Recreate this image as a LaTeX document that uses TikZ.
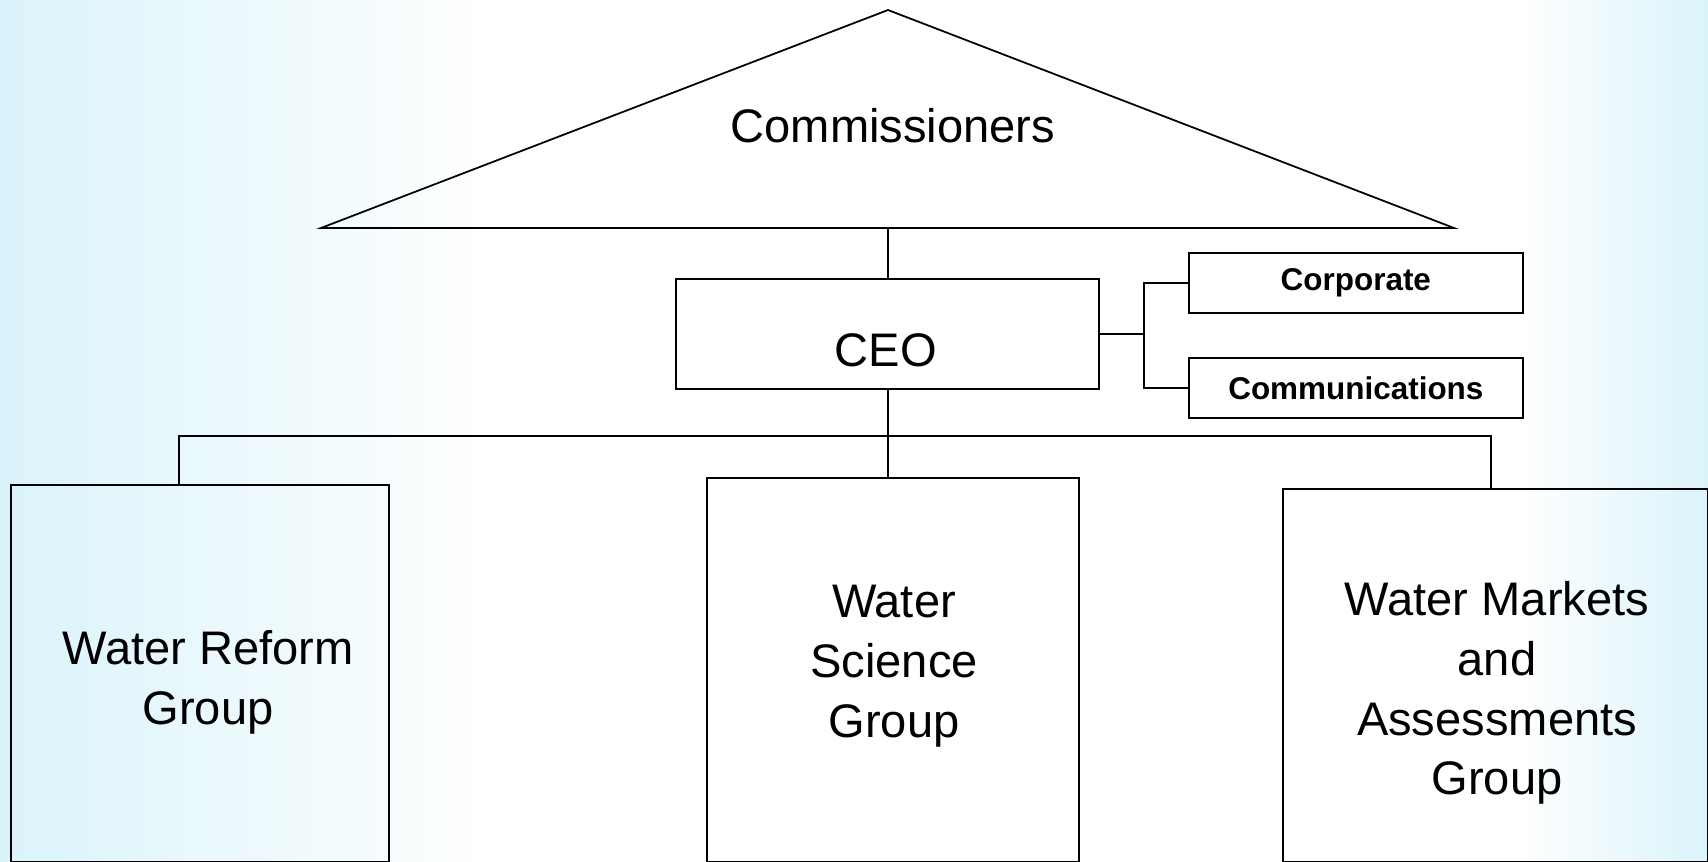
\documentclass[tikz,border=0pt]{standalone}
\usepackage{fontspec}
\setmainfont{Liberation Sans}
\definecolor{paleblue}{RGB}{218,243,250}
\begin{document}
\begin{tikzpicture}[x=.02cm,y=-.02cm,line width=1pt,
    box/.style={draw,inner sep=0pt,anchor=north west},
    big/.style={font=\fontsize{26.8}{34}\selectfont,align=center},
    small/.style={font=\bfseries\fontsize{17.9}{21}\selectfont}]
  \useasboundingbox (0,0) rectangle (1708,862);
  \fill[white] (0,0) rectangle (1708,862);
  \shade[left color=paleblue,right color=white] (0,0) rectangle (490,862);
  \shade[left color=white,right color=paleblue] (1520,0) rectangle (1708,862);
  % commissioners
  \draw (321,228) -- (888,10) -- (1454,228) -- cycle;
  \coordinate (base) at (888,228);
  \node[big] (comm) at (893,126) {Commissioners};
  % ceo and staff units
  \node[box,minimum width=8.46cm,minimum height=2.2cm] (ceo) at (675,278) {};
  \node[big] (ceotxt) at (886,350) {CEO};
  \node[box,small,minimum width=6.68cm,minimum height=1.2cm] (corp) at (1188,252) {};
  \node[small] at (corp.center) {Corporate};
  \node[box,small,minimum width=6.68cm,minimum height=1.2cm] (comms) at (1188,357) {};
  \node[small] at (comms.center) {Communications};
  \coordinate (split) at (1144,0);
  % groups
  \node[box,minimum width=7.56cm,minimum height=7.54cm] (reform) at (10,484) {};
  \node[big] (reformtxt) at (208,682) {Water Reform\\Group};
  \node[box,minimum width=7.44cm,minimum height=7.68cm] (science) at (706,477) {};
  \node[big] (sciencetxt) at (894,666) {Water\\Science\\Group};
  \node[box,minimum width=8.5cm,minimum height=7.46cm] (markets) at (1282,488) {};
  \node[big] (marketstxt) at (1497,693) {Water Markets\\and\\Assessments\\Group};
  \coordinate (barL) at (179,436);
  \coordinate (barR) at (1491,436);
  % connectors
  \draw (base) -- (base |- ceo.north);
  \draw (ceo.east) -- (ceo.east -| split);
  \draw (corp.west) -| (ceo.east -| split) |- (comms.west);
  \draw (base |- ceo.south) -- (base |- science.north);
  \draw (barL |- reform.north) -- (barL) -- (barR) -- (barR |- markets.north);
\end{tikzpicture}
\end{document}
